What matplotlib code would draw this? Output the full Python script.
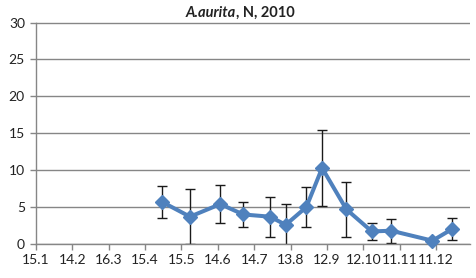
import numpy as np
import pandas as pd
import matplotlib
matplotlib.use("Agg")
import matplotlib.pyplot as plt

plt.rcParams['font.family'] = ['Lato', 'DejaVu Sans']

# sampling dates and mean values with error
dates = ['2010-04-29', '2010-05-22', '2010-06-16', '2010-07-05', '2010-07-27',
         '2010-08-09', '2010-08-26', '2010-09-08', '2010-09-28', '2010-10-19',
         '2010-11-04', '2010-12-08', '2010-12-24']
values = [5.7, 3.7, 5.4, 4.0, 3.7, 2.6, 5.0, 10.3, 4.7, 1.7, 1.8, 0.45, 2.0]
errors = [2.2, 3.7, 2.6, 1.7, 2.7, 2.8, 2.7, 5.2, 3.7, 1.1, 1.6, 0.0, 1.5]

tick_start = '2010-01-15'
tick_step_days = 30
n_ticks = 12
x_end_days = 358

start = pd.Timestamp(tick_start)
x = np.array([(pd.Timestamp(d) - start).days for d in dates])
tick_dates = [start + pd.Timedelta(days=tick_step_days * i) for i in range(n_ticks)]
tick_pos = [(d - start).days for d in tick_dates]
tick_labels = [f"{d.day}.{d.month}" for d in tick_dates]

fig = plt.figure(figsize=(4.77, 2.78), dpi=100)
ax = fig.add_axes([36 / 477, 34 / 278, 434 / 477, 221.5 / 278])

grid_c = '#868686'
ax.set_ylim(0, 30)
ax.set_yticks(range(0, 31, 5))
ax.set_xlim(0, x_end_days)
ax.set_xticks(tick_pos)
ax.set_xticklabels(tick_labels)
ax.yaxis.grid(True, color=grid_c, linewidth=1.0)
ax.set_axisbelow(True)
for s in ['top', 'right']:
    ax.spines[s].set_visible(False)
for s in ['left', 'bottom']:
    ax.spines[s].set_color(grid_c)
    ax.spines[s].set_linewidth(1.0)
ax.tick_params(axis='both', colors=grid_c, labelcolor='#222222', labelsize=10,
               length=4, width=1.0, direction='out')
ax.tick_params(axis='y', pad=4)
ax.tick_params(axis='x', pad=3)

ax.errorbar(x, values, yerr=errors, fmt='none', ecolor='#1a1a1a',
            elinewidth=1.0, capsize=3.5, capthick=1.0, zorder=2)
ax.plot(x, values, color='#4F81BD', linewidth=2.9, marker='D', markersize=7,
        markerfacecolor='#4F81BD', markeredgecolor='#4F81BD', zorder=3,
        clip_on=False)

t1 = fig.text(236 / 477, 1 - 17 / 278, 'A.aurita', ha='right', va='baseline',
              fontsize=10.5, fontweight='bold', fontstyle='italic', color='#222222')
ax.annotate(', N, 2010', xy=(1, 0), xycoords=t1, va='bottom', ha='left',
            fontsize=10.5, fontweight='bold', color='#222222',
            annotation_clip=False)

fig.savefig('out.png', dpi=100)
